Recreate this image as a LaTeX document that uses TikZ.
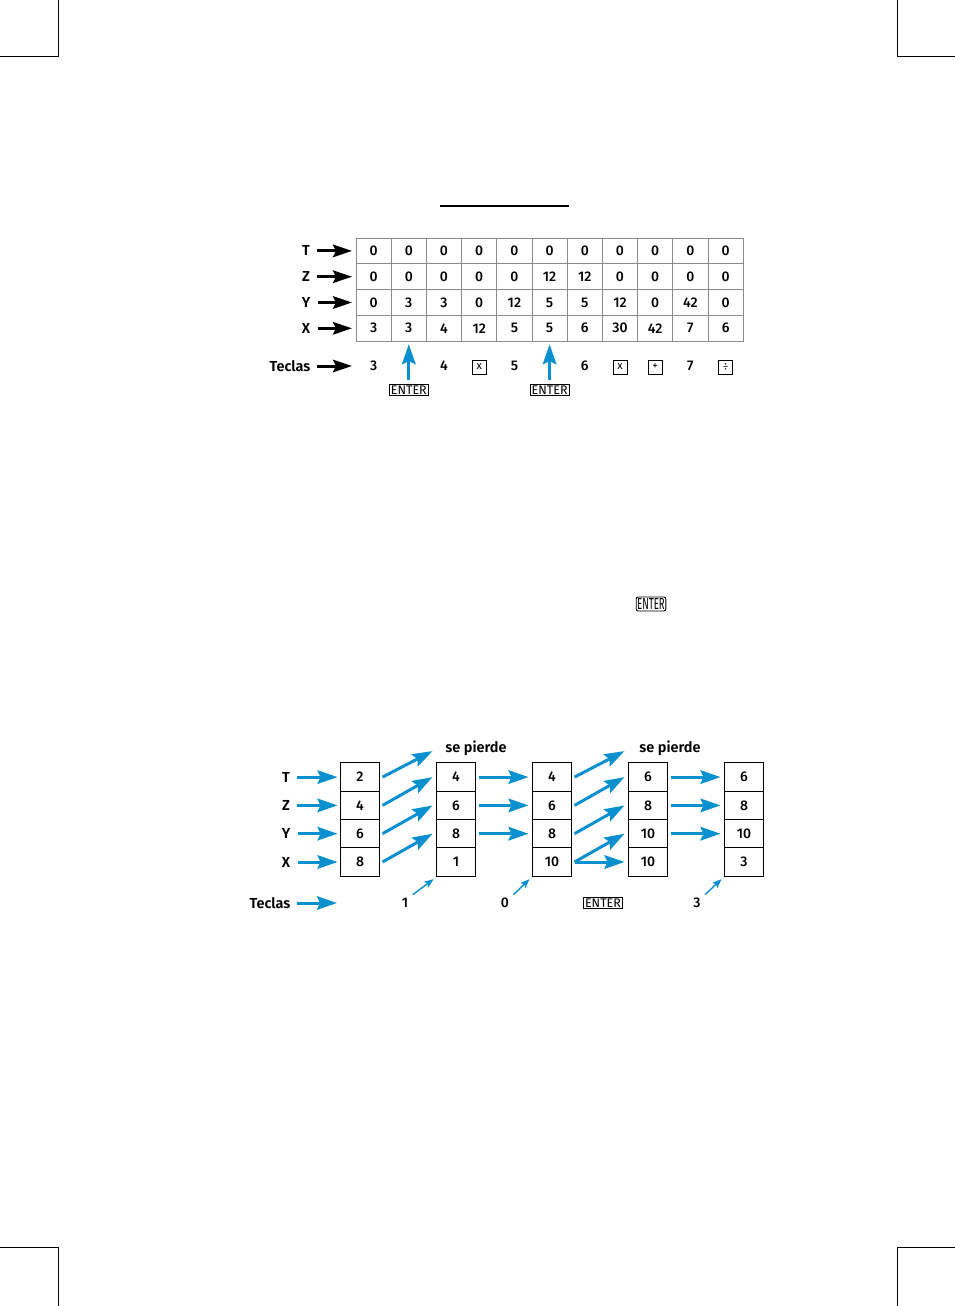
\documentclass[tikz,border=0pt]{standalone}
\usepackage{fontspec}
\setmainfont{Fira Sans Medium}[BoldFont={Fira Sans SemiBold}]
\newfontfamily\keyfont{Fira Sans}
\usetikzlibrary{arrows.meta,calc}
\definecolor{hpblue}{HTML}{0A8FCF}
\definecolor{gridgray}{HTML}{8A8A8A}
\tikzset{
  font=\fontsize{14}{16}\selectfont,
  regname/.style={font=\fontsize{14.5}{16}\selectfont\bfseries},
  cell/.style={draw=gridgray, line width=1pt, minimum width=35.2pt, minimum height=25.8pt, inner sep=0pt, outer sep=0pt},
  stackbox/.style={draw=black, line width=1pt, minimum width=39pt, minimum height=28.3pt, inner sep=0pt, outer sep=0pt},
  keybox/.style={draw, line width=0.9pt, minimum size=14pt, inner sep=0pt, font=\keyfont\fontsize{11}{12}\selectfont},
  enterkey/.style={draw, line width=0.9pt, inner xsep=1.5pt, inner ysep=1.2pt, font=\keyfont\fontsize{12.5}{13}\selectfont},
  blackflow/.style={-{Stealth[length=19pt,width=12.5pt,inset=3pt]}, line width=3pt, draw=black},
  blueflow/.style={-{Stealth[length=20pt,width=13.5pt,inset=3pt]}, line width=3pt, draw=hpblue},
  keyflow/.style={-{Stealth[length=9pt,width=7pt,inset=1.5pt]}, line width=1.4pt, draw=hpblue},
  cropmark/.style={line width=1pt}
}
\begin{document}
\begin{tikzpicture}[x=1pt,y=-1pt]
  \useasboundingbox (0,0) rectangle (955,1306);

  % crop marks
  \draw[cropmark] (58,0) -- (58,57) -- (0,57);
  \draw[cropmark] (897,0) -- (897,57) -- (955,57);
  \draw[cropmark] (0,1247) -- (58,1247) -- (58,1306);
  \draw[cropmark] (955,1247) -- (897,1247) -- (897,1306);

  \draw[line width=1.2pt] (440,206) -- (569,206);

  % stack table
  \foreach \t/\z/\y/\x [count=\i] in {0/0/0/3, 0/0/3/3, 0/0/3/4, 0/0/0/12, 0/0/12/5, 0/12/5/5, 0/12/5/6, 0/0/12/30, 0/0/0/42, 0/0/42/7, 0/0/0/6} {
    \pgfmathsetmacro\cx{356+35.2*(\i-0.5)}
    \node[cell] (T\i) at (\cx,250.9) {\t};
    \node[cell] (Z\i) at (\cx,276.7) {\z};
    \node[cell] (Y\i) at (\cx,302.5) {\y};
    \node[cell] (X\i) at (\cx,328.3) {\x};
  }
  \foreach \r in {T,Z,Y,X} {
    \node[regname] (lab\r) at (306,0 |- \r1) {\r};
    \draw[blackflow] ([xshift=4pt]lab\r.east) -- ([xshift=-4pt]\r1.west);
  }

  \node[regname] (keysTop) at (290,366) {Teclas};
  \draw[blackflow] ([xshift=3pt]keysTop.east) -- ($(keysTop.east -| T1.west)+(-4,0)$);
  \node (k1) at (X1 |- 0,366) {3};
  \node[enterkey] (k2) at (X2 |- 0,390) {ENTER};
  \draw[blueflow] ([yshift=4pt]k2.north) -- ([yshift=-3pt]X2.south);
  \node (k3) at (X3 |- 0,366) {4};
  \node[keybox] (k4) at (X4 |- 0,367) {x};
  \node (k5) at (X5 |- 0,366) {5};
  \node[enterkey] (k6) at (X6 |- 0,390) {ENTER};
  \draw[blueflow] ([yshift=4pt]k6.north) -- ([yshift=-3pt]X6.south);
  \node (k7) at (X7 |- 0,366) {6};
  \node[keybox] (k8) at (X8 |- 0,367) {x};
  \node[keybox] (k9) at (X9 |- 0,367) {+};
  \node (k10) at (X10 |- 0,366) {7};
  \node[keybox] (k11) at (X11 |- 0,367) {÷};

  % enter key in text
  \node[draw, line width=0.9pt, rounded corners=2pt, inner xsep=1pt, inner ysep=1.5pt, font=\keyfont\fontsize{16}{17}\selectfont] (enterText) at (651,604) {\scalebox{0.6}[1]{ENTER}};

  % stack lift
  \foreach \c/\xc/\t/\z/\y/\x in {1/360/2/4/6/8, 2/456/4/6/8/1, 3/552/4/6/8/10, 4/648/6/8/10/10, 5/744/6/8/10/3} {
    \node[stackbox] (s\c-T) at (\xc,777.1) {\t};
    \node[stackbox] (s\c-Z) at (\xc,805.4) {\z};
    \node[stackbox] (s\c-Y) at (\xc,833.7) {\y};
    \node[stackbox] (s\c-X) at (\xc,862) {\x};
  }
  \foreach \r in {T,Z,Y,X} {
    \node[regname] (reg\r) at (286,0 |- s1-\r) {\r};
    \draw[blueflow] ([xshift=4pt]reg\r.east) -- ([xshift=-3pt]s1-\r.west);
  }
  \node[regname] (lost1) at (476,748) {se pierde};
  \node[regname] (lost2) at (670,748) {se pierde};

  \foreach \a/\b in {1/2, 3/4} {
    \draw[blueflow] ([xshift=3pt]s\a-T.east) -- ([xshift=-4pt,yshift=26pt]s\b-T.west);
    \draw[blueflow] ([xshift=3pt]s\a-Z.east) -- ([xshift=-4pt]s\b-T.west);
    \draw[blueflow] ([xshift=3pt]s\a-Y.east) -- ([xshift=-4pt]s\b-Z.west);
    \draw[blueflow] ([xshift=3pt]s\a-X.east) -- ([xshift=-4pt]s\b-Y.west);
  }
  \foreach \a/\b in {2/3, 4/5} {
    \foreach \r in {T,Z,Y}
      \draw[blueflow] ([xshift=3pt]s\a-\r.east) -- ([xshift=-4pt]s\b-\r.west);
  }
  \draw[blueflow] ([xshift=3pt]s3-X.east) -- ([xshift=-4pt]s4-X.west);

  \node[regname] (keysLow) at (270,903) {Teclas};
  \draw[blueflow] ([xshift=3pt]keysLow.east) -- ++(40,0);
  \node (d1) at (405,903) {1};
  \node (d2) at (505,903) {0};
  \node[enterkey] (d3) at (603,903) {ENTER};
  \node (d4) at (697,903) {3};
  \draw[keyflow] ([xshift=1pt]d1.north east) -- ([xshift=-3pt,yshift=-3pt]s2-X.south west);
  \draw[keyflow] ([xshift=1pt]d2.north east) -- ([xshift=-3pt,yshift=-3pt]s3-X.south west);
  \draw[keyflow] ([xshift=1pt]d4.north east) -- ([xshift=-3pt,yshift=-3pt]s5-X.south west);
\end{tikzpicture}
\end{document}
